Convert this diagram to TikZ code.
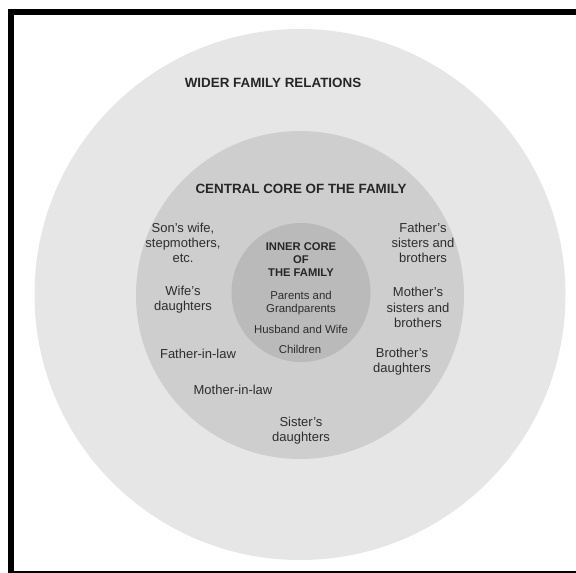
\documentclass[tikz,border=0pt]{standalone}
\usepackage{fontspec}
\setmainfont{Liberation Sans}
\definecolor{outerc}{RGB}{230,230,230}
\definecolor{midc}{RGB}{206,206,206}
\definecolor{innerc}{RGB}{186,186,186}
\definecolor{txt}{RGB}{45,45,45}
\begin{document}
\begin{tikzpicture}[x=1pt,y=-1pt,
  lbl/.style={align=center,text=txt,inner sep=0pt,font=\fontsize{13}{15.2}\selectfont},
  ilbl/.style={align=center,text=txt,inner sep=0pt,font=\fontsize{11.4}{13}\selectfont},
  head/.style={align=center,text=black!85,inner sep=0pt,font=\bfseries\fontsize{13.4}{14}\selectfont},
  ihead/.style={align=center,text=black!85,inner sep=0pt,font=\bfseries\fontsize{11.2}{13.2}\selectfont}]
\useasboundingbox[fill=white] (0,0) rectangle (576,573);
% frame
\fill[black] (8,9) rectangle (14,573);
\fill[black] (8,9) rectangle (576,15);
\fill[black] (8,571.3) rectangle (576,572.8);
% circles
\fill[outerc] (300,294.5) circle[radius=265.5];
\fill[midc] (300,295) circle[radius=164];
\fill[innerc] (301,292.5) circle[radius=69.5];
% headings
\node[head] (wider) at (273,83) {WIDER FAMILY RELATIONS};
\node[head] (central) at (301,189) {CENTRAL CORE OF THE FAMILY};
\node[ihead] (inner) at (301,259.5) {INNER CORE\\OF\\THE FAMILY};
% inner core
\node[ilbl] (parents) at (301,303.5) {Parents and\\Grandparents};
\node[ilbl] (husband) at (301,329) {Husband and Wife};
\node[ilbl] (children) at (300,349) {Children};
% central core
\node[lbl] (sonswife) at (183,243) {Son's wife,\\stepmothers,\\etc.};
\node[lbl] (fathers) at (423,243) {Father's\\sisters and\\brothers};
\node[lbl] (wifes) at (183,299.5) {Wife's\\daughters};
\node[lbl] (mothers) at (418,307.5) {Mother's\\sisters and\\brothers};
\node[lbl] (fil) at (198,354) {Father-in-law};
\node[lbl] (brothers) at (402,361.5) {Brother's\\daughters};
\node[lbl] (mil) at (233,390) {Mother-in-law};
\node[lbl] (sisters) at (301,430.5) {Sister's\\daughters};
\end{tikzpicture}
\end{document}
